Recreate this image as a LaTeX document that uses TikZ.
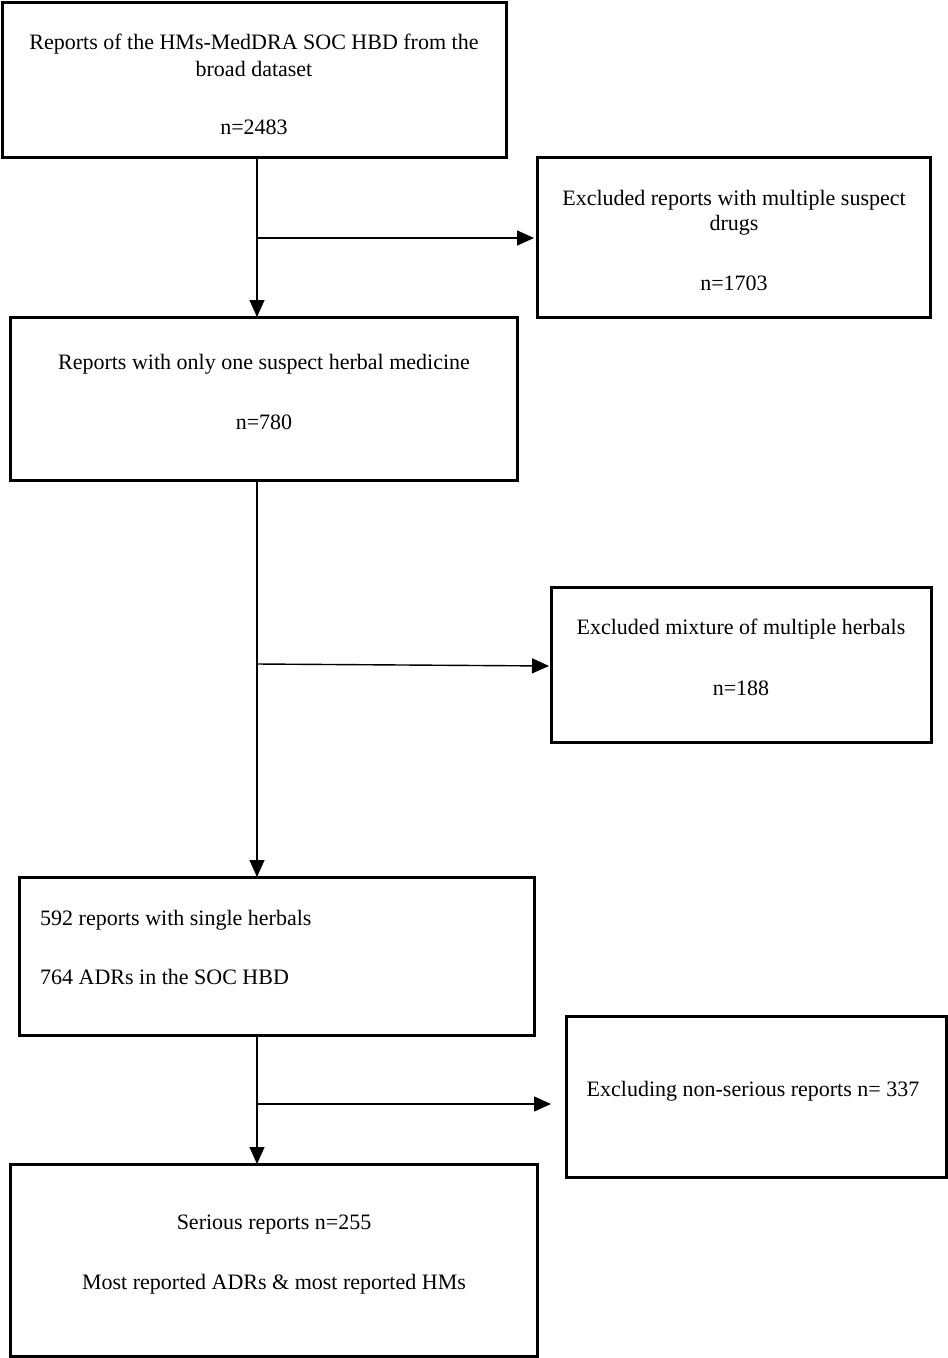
\documentclass[tikz,border=0pt]{standalone}
\usepackage{fontspec}
\setmainfont{Liberation Serif}
\usetikzlibrary{arrows.meta}
\begin{document}
\begin{tikzpicture}[x=1pt,y=-1pt,
  boxst/.style={draw=black,line width=3pt},
  txt/.style={font=\fontsize{22}{24}\selectfont,align=center,inner sep=0pt,text=black},
  conn/.style={line width=1.4pt,draw=black},
  arr/.style={conn,-{Triangle[length=17pt,width=15pt]}}]
\useasboundingbox (0,0) rectangle (948,1358);
% boxes
\path[boxst] (2,2) rectangle (506,157);
\coordinate (b1s) at (257,157);
\path[boxst] (537,157) rectangle (930,317);
\coordinate (b2w) at (537,238);
\path[boxst] (10,317) rectangle (517,480);
\coordinate (b3n) at (257,317);
\coordinate (b3s) at (257,480);
\path[boxst] (551,587) rectangle (931,742);
\coordinate (b4w) at (551,666);
\path[boxst] (19,877) rectangle (534,1035);
\coordinate (b5n) at (257,877);
\coordinate (b5s) at (257,1035);
\path[boxst] (566,1016) rectangle (946,1177);
\coordinate (b6w) at (566,1104);
\path[boxst] (10,1164) rectangle (537,1356);
\coordinate (b7n) at (257,1164);
% texts
\node[txt] (t1a) at (254,44) {Reports of the HMs-MedDRA SOC HBD from the};
\node[txt] (t1b) at (254,69) {broad dataset};
\node[txt] (t1c) at (254,127) {n=2483};
\node[txt] (t2a) at (734,200) {Excluded reports with multiple suspect};
\node[txt] (t2b) at (734,225) {drugs};
\node[txt] (t2c) at (734,283) {n=1703};
\node[txt] (t3a) at (264,364) {Reports with only one suspect herbal medicine};
\node[txt] (t3b) at (264,422) {n=780};
\node[txt] (t4a) at (741,629) {Excluded mixture of multiple herbals};
\node[txt] (t4b) at (741,688) {n=188};
\node[txt,anchor=west] (t5a) at (40,920) {592 reports with single herbals};
\node[txt,anchor=west] (t5b) at (40,977) {764 ADRs in the SOC HBD};
\node[txt] (t6a) at (753,1091) {Excluding non-serious reports n= 337};
\node[txt] (t7a) at (274,1225) {Serious reports n=255};
\node[txt] (t7b) at (274,1284) {Most reported ADRs \& most reported HMs};
% connectors
\draw[arr] (b1s) -- (b3n);
\coordinate (j1) at (257,238);
\draw[arr,shorten >=3pt] (j1) -- (b2w);
\draw[arr] (b3s) -- (b5n);
\coordinate (j2) at (257,664);
\draw[arr,shorten >=2pt] (j2) -- (b4w);
\draw[arr] (b5s) -- (b7n);
\coordinate (j3) at (257,1104);
\draw[arr,shorten >=15pt] (j3) -- (b6w);
\end{tikzpicture}
\end{document}
